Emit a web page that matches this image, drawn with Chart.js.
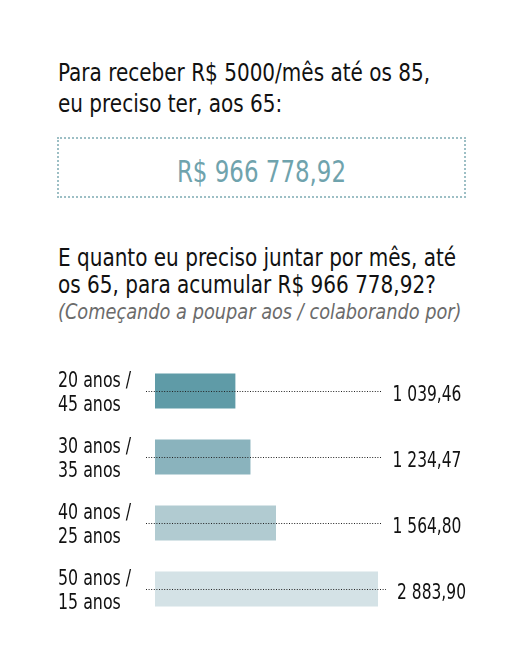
<!DOCTYPE html>
<html>
<head>
<meta charset="utf-8">
<script src="https://cdn.jsdelivr.net/npm/chart.js@4/dist/chart.umd.min.js"></script>
<style>
  html, body { margin: 0; padding: 0; background: #ffffff; }
  body { width: 530px; height: 670px; position: relative; overflow: hidden;
         font-family: "DejaVu Sans Condensed", "Liberation Sans Narrow", sans-serif; color: #111; }
  .t { position: absolute; left: 58px; white-space: nowrap; line-height: 1; transform-origin: 0 0; }
  .h { font-size: 25px; transform: scaleX(0.89); }
  .sub { font-size: 21px; font-style: italic; color: #6b6b6b; transform: scaleX(0.94); }
  #box { position: absolute; left: 57px; top: 137px; width: 405px; height: 57px;
         border: 2px dotted #9dbfc5; }
  #big { position: absolute; left: 57px; width: 409px; top: 157.3px; text-align: center; font-size: 30px;
         color: #6fa3ad; line-height: 1; transform: scaleX(0.85); transform-origin: 50% 0; }
  #wrap { position: absolute; left: 0; top: 340px; width: 530px; height: 300px; }
</style>
</head>
<body>
<div class="t h" style="top:59.5px">Para receber R$ 5000/mês até os 85,</div>
<div class="t h" style="top:91.1px">eu preciso ter, aos 65:</div>
<div id="box"></div>
<div id="big">R$ 966 778,92</div>
<div class="t h" style="top:244.5px">E quanto eu preciso juntar por mês, até</div>
<div class="t h" style="top:272.1px">os 65, para acumular R$ 966 778,92?</div>
<div class="t sub" style="top:302.2px">(Começando a poupar aos / colaborando por)</div>
<div id="wrap"><canvas id="c"></canvas></div>
<script>
const categories = [["20 anos /", "45 anos"], ["30 anos /", "35 anos"], ["40 anos /", "25 anos"], ["50 anos /", "15 anos"]];
const values = [1039.46, 1234.47, 1564.80, 2883.90];
const barColors = ["#5f9ba7", "#8ab3bd", "#b1cbd1", "#d4e2e6"];

function fmt(v) {
  const parts = v.toFixed(2).split(".");
  const int = parts[0].replace(/\B(?=(\d{3})+(?!\d))/g, " ");
  return int + "," + parts[1];
}

const FONT = '"DejaVu Sans Condensed", "Liberation Sans Narrow", sans-serif';

const narrowTicks = {
  id: "narrowTicks",
  beforeDraw(chart) {
    const ys = chart.scales.y;
    if (ys && !ys._narrowed) {
      const orig = ys.drawLabels;
      ys.drawLabels = function (area) {
        const ctx = this.ctx;
        const x0 = this.left;
        ctx.save();
        ctx.translate(x0, 2.5);
        ctx.scale(0.80, 1);
        ctx.translate(-x0, 0);
        orig.call(this, area);
        ctx.restore();
      };
      ys._narrowed = true;
    }
  }
};

const guidePlugin = {
  id: "guides",
  afterDatasetsDraw(chart) {
    const ctx = chart.ctx;
    const xs = chart.scales.x, ys = chart.scales.y;
    const left = chart.chartArea.left;
    ctx.save();
    values.forEach((v, i) => {
      const y = Math.round(ys.getPixelForValue(i)) + 0.5;
      const barEnd = xs.getPixelForValue(v);
      const lineEnd = Math.max(left + 226.5, barEnd + 8);
      ctx.beginPath();
      ctx.setLineDash([1, 1.6]);
      ctx.strokeStyle = "#222";
      ctx.lineWidth = 1;
      ctx.moveTo(left - 9, y);
      ctx.lineTo(lineEnd, y);
      ctx.stroke();
      ctx.setLineDash([]);
      const lx = lineEnd + 11;
      ctx.save();
      ctx.translate(lx, y + 9);
      ctx.scale(0.84, 1);
      ctx.fillStyle = "#111";
      ctx.font = "20.5px " + FONT;
      ctx.textAlign = "left";
      ctx.textBaseline = "alphabetic";
      ctx.fillText(fmt(v), 0, 0);
      ctx.restore();
    });
    ctx.restore();
  }
};

new Chart(document.getElementById("c"), {
  type: "bar",
  data: {
    labels: categories,
    datasets: [{
      data: values,
      backgroundColor: barColors,
      borderWidth: 0,
      barPercentage: 35 / 66,
      categoryPercentage: 1
    }]
  },
  options: {
    indexAxis: "y",
    responsive: true,
    maintainAspectRatio: false,
    animation: false,
    layout: { padding: { left: 58, right: 143, top: 18, bottom: 18 } },
    plugins: { legend: { display: false }, tooltip: { enabled: false } },
    scales: {
      x: { display: false, min: 0, max: 3000 },
      y: {
        grid: { display: false },
        border: { display: false },
        ticks: {
          crossAlign: "far",
          padding: 0,
          color: "#111",
          font: { family: FONT, size: 22, lineHeight: 24 / 22 }
        },
        afterFit(scale) { scale.width = 97; scale.paddingTop = 0; scale.paddingBottom = 0; }
      }
    }
  },
  plugins: [narrowTicks, guidePlugin]
});
</script>
</body>
</html>
